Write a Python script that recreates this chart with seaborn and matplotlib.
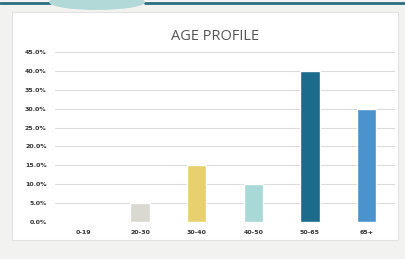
import matplotlib
matplotlib.use("Agg")
import matplotlib.pyplot as plt
from matplotlib.patches import Rectangle, Ellipse
from matplotlib.lines import Line2D
import seaborn as sns
import pandas as pd

age_groups = ["0-19", "20-30", "30-40", "40-50", "50-65", "65+"]
share_pct = [0.0, 5.0, 15.0, 10.0, 40.0, 30.0]
bar_colors = ["#d6d6d0", "#d9d9d2", "#e9d06f", "#a9d9d7", "#1c6b8c", "#4b93cc"]

df = pd.DataFrame({"age": age_groups, "share": share_pct})

sns.set_style("white")
fig = plt.figure(figsize=(4.06, 2.59), dpi=100)
fig.patch.set_facecolor("#f2f2f0")

# white card behind the chart
fig.patches.append(Rectangle((12 / 406, 1 - 240 / 259), 386 / 406, 228 / 259,
                             transform=fig.transFigure, facecolor="white",
                             edgecolor="#e2e2e2", linewidth=0.8, zorder=-10))
# teal header rule with a faint decorative blob
fig.lines.append(Line2D([0, 50 / 406], [1 - 3 / 259] * 2, transform=fig.transFigure,
                        color="#2a6e80", linewidth=2, zorder=-5))
fig.lines.append(Line2D([145 / 406, 1], [1 - 3 / 259] * 2, transform=fig.transFigure,
                        color="#2a6e80", linewidth=2, zorder=-5))
fig.patches.append(Ellipse((97 / 406, 1 - 2 / 259), 96 / 406, 16 / 259,
                           transform=fig.transFigure, facecolor="#b3d8d8",
                           edgecolor="none", zorder=-4))

ax = fig.add_axes([55 / 406, 1 - 222 / 259, 340 / 406, 170 / 259])
ax.set_zorder(1)
ax.set_facecolor("none")
sns.barplot(data=df, x="age", y="share", hue="age", palette=bar_colors,
            legend=False, width=0.34, saturation=1, ax=ax, zorder=3)

ax.set_ylim(0, 45)
ax.set_yticks(range(0, 50, 5))
ax.set_yticklabels([f"{v:.1f}%" for v in range(0, 50, 5)])
ax.yaxis.grid(True, color="#dcdcdc", linewidth=0.8, zorder=0)
ax.set_axisbelow(True)
ax.set_xlabel(None)
ax.set_ylabel(None)
for s in ax.spines.values():
    s.set_visible(False)
ax.tick_params(axis="both", length=0, labelsize=4.5, labelcolor="#333333", pad=6)
for t in ax.get_xticklabels() + ax.get_yticklabels():
    t.set_fontweight("bold")

fig.text(215 / 406, 1 - 37 / 259, "AGE PROFILE", ha="center", va="center",
         fontsize=10.5, color="#555555", family="Open Sans")

fig.savefig("out.png", dpi=100, facecolor=fig.get_facecolor())
